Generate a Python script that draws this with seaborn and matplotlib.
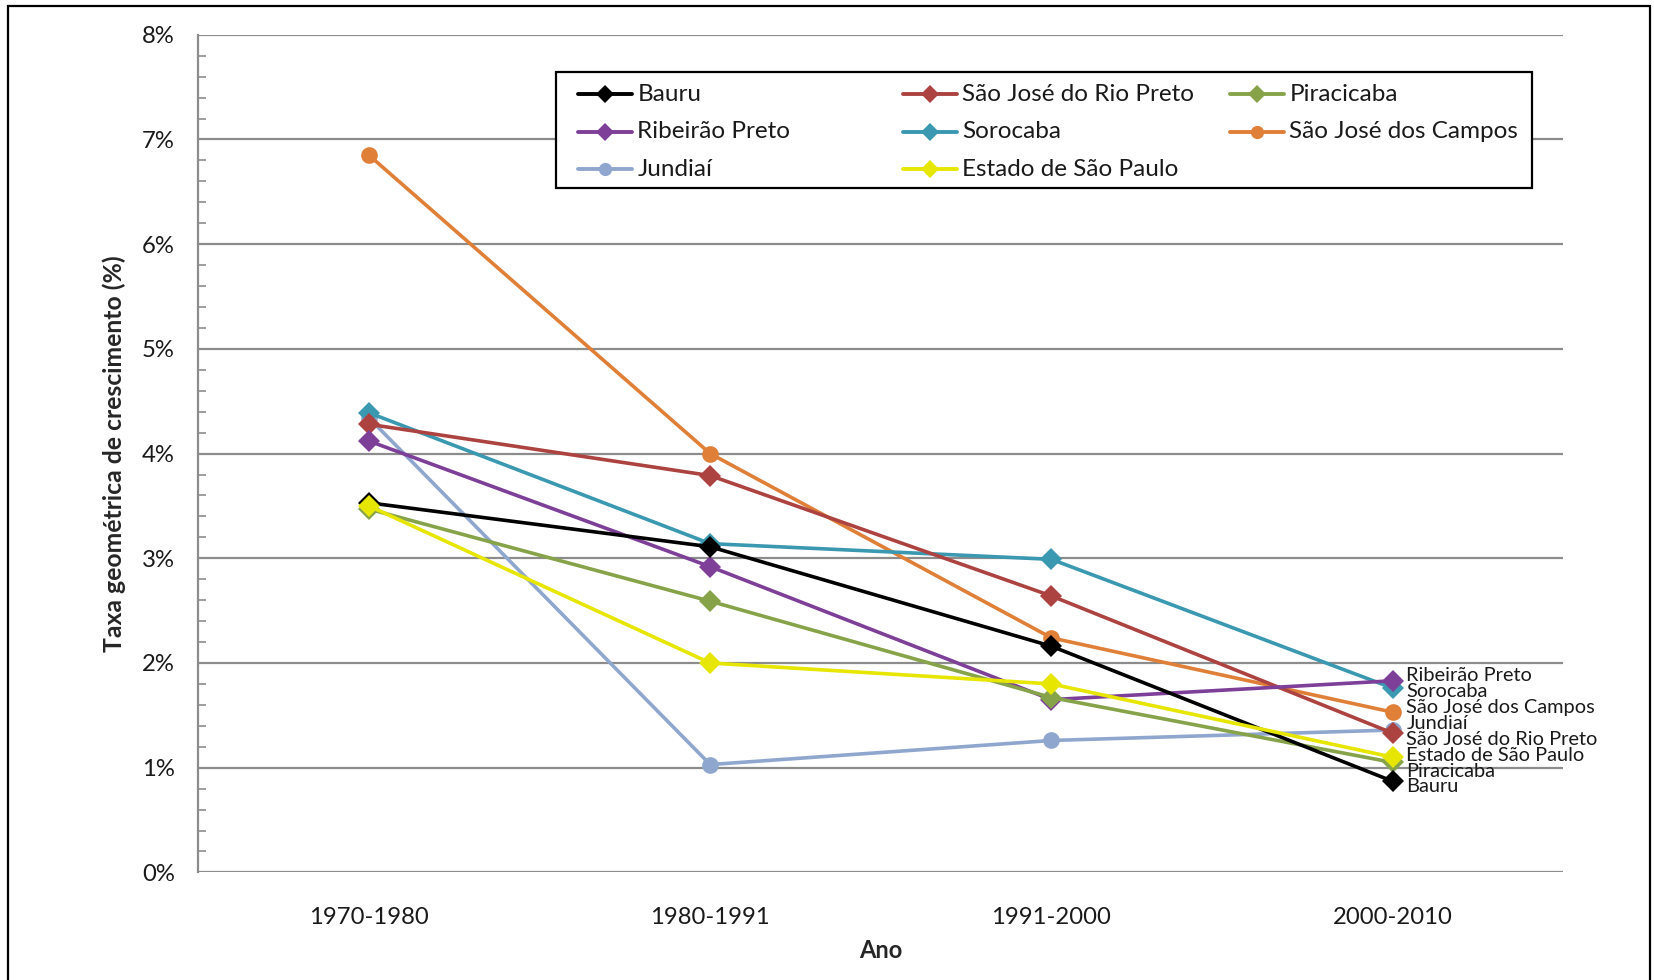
import matplotlib
matplotlib.use("Agg")
import matplotlib.pyplot as plt
import matplotlib.ticker as mticker
from matplotlib.lines import Line2D
from matplotlib.patches import Rectangle
import seaborn as sns
import pandas as pd

# Growth rates (% per year) by census interval
periodos = ["1970-1980", "1980-1991", "1991-2000", "2000-2010"]
bauru = [3.53, 3.11, 2.16, 0.87]
sj_rio_preto = [4.28, 3.79, 2.64, 1.33]
piracicaba = [3.47, 2.59, 1.67, 1.05]
ribeirao_preto = [4.12, 2.92, 1.65, 1.83]
sorocaba = [4.39, 3.14, 2.99, 1.76]
sj_campos = [6.85, 4.00, 2.24, 1.53]
jundiai = [4.34, 1.03, 1.26, 1.36]
estado_sp = [3.50, 2.00, 1.80, 1.10]

series = {
    "Bauru": bauru,
    "São José do Rio Preto": sj_rio_preto,
    "Piracicaba": piracicaba,
    "Ribeirão Preto": ribeirao_preto,
    "Sorocaba": sorocaba,
    "São José dos Campos": sj_campos,
    "Jundiaí": jundiai,
    "Estado de São Paulo": estado_sp,
}
cores = {
    "Bauru": "#000000",
    "São José do Rio Preto": "#AD4340",
    "Piracicaba": "#86A34A",
    "Ribeirão Preto": "#7E3F98",
    "Sorocaba": "#3A98B0",
    "São José dos Campos": "#E07F38",
    "Jundiaí": "#8FA7CF",
    "Estado de São Paulo": "#E6E600",
}
marcadores = {
    "Bauru": "D", "São José do Rio Preto": "D", "Piracicaba": "D",
    "Ribeirão Preto": "D", "Sorocaba": "D", "São José dos Campos": "o",
    "Jundiaí": "o", "Estado de São Paulo": "D",
}
# Order in which lines are drawn (last on top)
ordem_desenho = ["São José dos Campos", "Jundiaí", "Sorocaba", "São José do Rio Preto",
                 "Ribeirão Preto", "Piracicaba", "Bauru", "Estado de São Paulo"]
# Right-hand labels, top to bottom
ordem_rotulos = ["Ribeirão Preto", "Sorocaba", "São José dos Campos", "Jundiaí",
                 "São José do Rio Preto", "Estado de São Paulo", "Piracicaba", "Bauru"]
# Legend layout: three columns
colunas = [["Bauru", "Ribeirão Preto", "Jundiaí"],
           ["São José do Rio Preto", "Sorocaba", "Estado de São Paulo"],
           ["Piracicaba", "São José dos Campos"]]

df = pd.DataFrame(
    [(nome, p, v) for nome, vals in series.items() for p, v in zip(periodos, vals)],
    columns=["serie", "periodo", "taxa"],
)

sns.set_theme(style="white")
plt.rcParams["font.family"] = ["Lato", "DejaVu Sans"]

fig = plt.figure(figsize=(16.54, 9.8), dpi=100)
ax = fig.add_axes([0.1199, 0.1098, 0.9452 - 0.1199, 0.9645 - 0.1098])

for nome in ordem_desenho:
    sub = df[df["serie"] == nome]
    ms = 11 if marcadores[nome] == "D" else 12
    sns.lineplot(data=sub, x="periodo", y="taxa", ax=ax, color=cores[nome],
                 marker=marcadores[nome], markersize=ms, markeredgewidth=0,
                 linewidth=2.6, sort=False, legend=False)

ax.set_xlim(-0.5, 3.5)
ax.set_ylim(0, 8)
ax.yaxis.set_major_locator(mticker.MultipleLocator(1))
ax.yaxis.set_minor_locator(mticker.MultipleLocator(0.2))
ax.yaxis.set_major_formatter(mticker.FuncFormatter(lambda v, _: f"{v:.0f}%"))
ax.grid(axis="y", which="major", color="#8C8C8C", linewidth=1.6)
ax.set_axisbelow(True)
for s in ["top", "right", "bottom"]:
    ax.spines[s].set_visible(False)
ax.spines["left"].set_color("#8C8C8C")
ax.spines["left"].set_linewidth(1.6)
ax.tick_params(axis="y", which="major", direction="out", length=0, pad=17,
               labelsize=17.2, labelcolor="#1A1A1A")
ax.tick_params(axis="y", which="minor", direction="in", length=6, width=1.2,
               color="#8C8C8C", left=True)
ax.tick_params(axis="x", length=0, pad=25, labelsize=17.2, labelcolor="#1A1A1A")
ax.set_xlabel("Ano", fontsize=17, fontweight="bold", labelpad=8)
ax.set_ylabel("Taxa geométrica de crescimento (%)", fontsize=17.8,
              fontweight="bold", labelpad=11)

# Labels at the end of each line
y_topo, passo = 1.88, 0.152
for i, nome in enumerate(ordem_rotulos):
    ax.text(3.04, y_topo - i * passo, nome, fontsize=14.4, color="#1A1A1A",
            va="center", ha="left")

# Legend box drawn by hand with three fixed-width columns
ax.add_patch(Rectangle((0.262, 0.8175), 0.715, 0.1375, transform=ax.transAxes,
                       facecolor="white", edgecolor="black", linewidth=1.6,
                       zorder=5, clip_on=False))
x_colunas = [0.278, 0.516, 0.7557]
comp_linha, folga = 0.0396, 0.0040
y_linha0, passo_linha = 0.9293, 0.0448
for xc, nomes in zip(x_colunas, colunas):
    for j, nome in enumerate(nomes):
        yl = y_linha0 - j * passo_linha
        ax.add_line(Line2D([xc, xc + comp_linha / 2, xc + comp_linha], [yl, yl, yl],
                           transform=ax.transAxes, color=cores[nome], linewidth=2.8,
                           marker=marcadores[nome], markevery=[1], markersize=9.5,
                           markeredgewidth=0, zorder=6, clip_on=False))
        ax.text(xc + comp_linha + folga, yl, nome, transform=ax.transAxes,
                fontsize=17.5, color="#1A1A1A", va="center", ha="left", zorder=6)

# Outer frame
fig.add_artist(Rectangle((8 / 1654, -0.05), (1650 - 8) / 1654, 1.05 - 6 / 980,
                         transform=fig.transFigure, fill=False,
                         edgecolor="black", linewidth=1.6))

fig.savefig("out.png", dpi=100)
